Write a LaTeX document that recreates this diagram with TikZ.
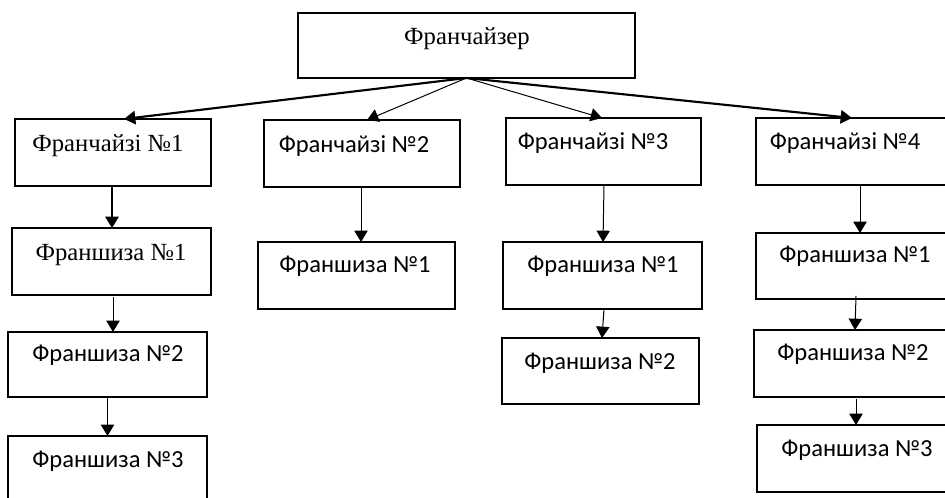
\documentclass[tikz,border=0pt]{standalone}
\usepackage{fontspec}
\setmainfont{Liberation Serif}
\newfontfamily\calfont{Carlito}
\usetikzlibrary{arrows.meta,calc}
\begin{document}
\begin{tikzpicture}[x=0.75pt,y=-0.75pt,
  box/.style={draw,line width=1.4pt,inner sep=0pt,outer sep=0pt},
  serif/.style={font=\fontsize{18.5}{20}\selectfont,anchor=base,inner sep=0pt},
  sans/.style={font=\calfont\fontsize{18.4}{20}\selectfont,anchor=base,inner sep=0pt},
  thk/.style={line width=1.6pt,-{Triangle[length=8.5pt,width=10pt]}},
  thn/.style={line width=0.75pt,-{Triangle[length=8.5pt,width=10pt]}}]
\useasboundingbox (0,0) rectangle (945,498);
\clip (0,0) rectangle (945,498);
% boxes: center x, center y, width, height (px)
\node[box,minimum width=337*0.75pt,minimum height=65*0.75pt] (top) at (466.5,45.5) {};
\node[box,minimum width=196*0.75pt,minimum height=67*0.75pt] (a1) at (113,152.5) {};
\node[box,minimum width=196*0.75pt,minimum height=67*0.75pt] (a2) at (362,153.5) {};
\node[box,minimum width=195*0.75pt,minimum height=67*0.75pt] (a3) at (603.5,151.5) {};
\node[box,minimum width=204*0.75pt,minimum height=67*0.75pt] (a4) at (858,151.5) {};
\node[box,minimum width=199*0.75pt,minimum height=67*0.75pt] (b1) at (111.5,261.5) {};
\node[box,minimum width=199*0.75pt,minimum height=65*0.75pt] (c1) at (107.5,364.5) {};
\node[box,minimum width=199*0.75pt,minimum height=69*0.75pt] (d1) at (107.5,470.5) {};
\node[box,minimum width=197*0.75pt,minimum height=67*0.75pt] (b2) at (356.5,275.5) {};
\node[box,minimum width=199*0.75pt,minimum height=67*0.75pt] (b3) at (602.5,275.5) {};
\node[box,minimum width=197*0.75pt,minimum height=66*0.75pt] (c3) at (600.5,371) {};
\node[box,minimum width=204*0.75pt,minimum height=66*0.75pt] (b4) at (858,266) {};
\node[box,minimum width=206*0.75pt,minimum height=67*0.75pt] (c4) at (857,363.5) {};
\node[box,minimum width=203*0.75pt,minimum height=67*0.75pt] (d4) at (858.5,458.5) {};
% texts
\node[serif] (ttop) at (467,45) {Франчайзер};
\node[serif] (ta1) at (108,152) {Франчайзі №1};
\node[sans] (ta2) at (354,153) {Франчайзі №2};
\node[sans] (ta3) at (593,150) {Франчайзі №3};
\node[sans] (ta4) at (845,150) {Франчайзі №4};
\node[serif] (tb1) at (111,261) {Франшиза №1};
\node[sans] (tc1) at (108,362) {Франшиза №2};
\node[sans] (td1) at (108,467) {Франшиза №3};
\node[sans] (tb2) at (355,273) {Франшиза №1};
\node[sans] (tb3) at (603,273) {Франшиза №1};
\node[sans] (tc3) at (600,370) {Франшиза №2};
\node[sans] (tb4) at (855,263) {Франшиза №1};
\node[sans] (tc4) at (853,361) {Франшиза №2};
\node[sans] (td4) at (857,456) {Франшиза №3};
% connectors
\draw[thk] (top.south) -- ($(a1.north)+(11,0)$);
\draw[thn] (top.south) -- ($(a2.north)+(5,0)$);
\draw[thn] (top.south) -- ($(a3.north)+(-1.5,0)$);
\draw[thk] (top.south) -- ($(a4.north)+(-6,0)$);
\draw[thk] ($(a1.south)+(-1,0)$) -- ($(b1.north)+(0.5,0)$);
\draw[thn] ($(b1.south)+(1.5,2)$) -- ($(c1.north)+(5.5,0)$);
\draw[thn] (c1.south) -- (d1.north);
\draw[thn] ($(a2.south)+(-1,0)$) -- ($(b2.north)+(4.5,0)$);
\draw[thn] ($(a3.south)+(0.5,0)$) -- ($(b3.north)+(0.5,0)$);
\draw[thn] ($(b3.south)+(1.5,0)$) -- ($(c3.north)+(1.5,0)$);
\draw[thn] ($(a4.south)+(2,0)$) -- ($(b4.north)+(2,0)$);
\draw[thn] ($(b4.south)+(-2,-3)$) -- ($(c4.north)+(-2,0)$);
\draw[thn] ($(c4.south)+(-1,2)$) -- ($(d4.north)+(-2.5,0)$);
\end{tikzpicture}
\end{document}
